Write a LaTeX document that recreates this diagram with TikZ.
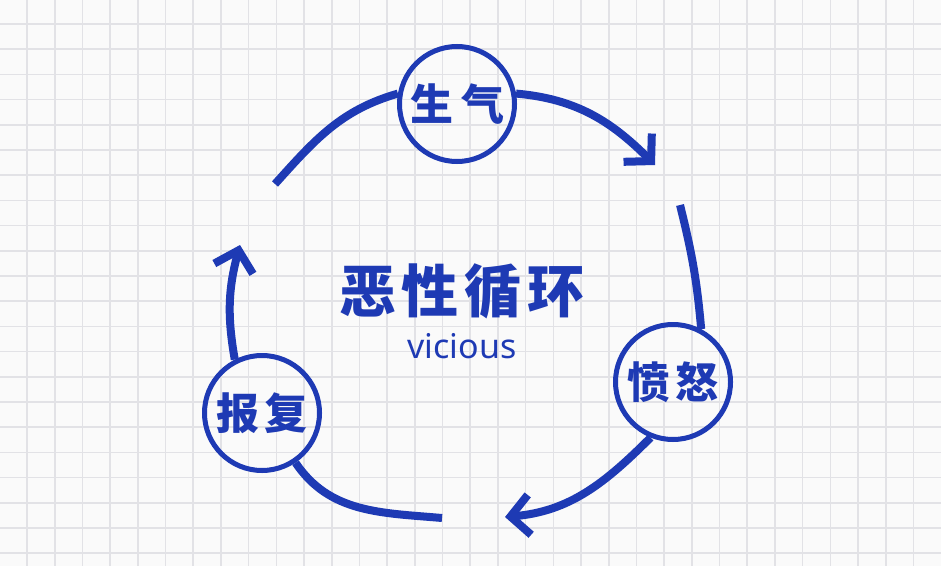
\documentclass[tikz,border=0pt]{standalone}
\usepackage{fontspec}
\setmainfont{Noto Sans}
\newfontfamily\cjk{Noto Sans CJK SC}
\usetikzlibrary{arrows.meta}
\definecolor{cycblue}{RGB}{30,58,180}
\definecolor{gridgray}{RGB}{226,226,230}
\definecolor{paper}{RGB}{250,250,250}
\tikzset{
  loopnode/.style={circle,draw=cycblue,line width=5pt,minimum size=115pt,inner sep=0pt,
    text=cycblue,font=\cjk\bfseries\fontsize{43}{43}\selectfont},
  looparc/.style={draw=cycblue,line width=8pt,line cap=butt},
  looptip/.style={looparc,-{Straight Barb[length=19pt,width=40pt,sharp]}}
}
\begin{document}
\begin{tikzpicture}[x=1pt,y=1pt]
	\fill[paper] (0,0) rectangle (941,566);
	\useasboundingbox (0,0) rectangle (941,566);
	% grid paper
	\foreach \i in {0,...,32} \draw[gridgray,line width=1.6pt] (27+27.7*\i,0)--(27+27.7*\i,566);
	\foreach \j in {0,...,21} \draw[gridgray,line width=1.6pt] (0,542-25.2*\j)--(941,542-25.2*\j);
	% the three steps
	\node[loopnode] (shengqi) at (457,462) {生\hspace{8pt}气};
	\node[loopnode] (fennu) at (673,184) {愤\hspace{5pt}怒};
	\node[loopnode] (baofu) at (262,153) {报\hspace{6pt}复};
	% centre title
	\node[text=cycblue,font=\cjk\bfseries\fontsize{57}{57}\selectfont] (title) at (462,275) {恶\hspace{6pt}性\hspace{6pt}循\hspace{6pt}环};
	\node[text=cycblue,font=\fontsize{34}{34}\selectfont] (sub) at (462,220) {vicious};
	% gaps in the ring
	\coordinate (tipA) at (655,401);
	\coordinate (gapA) at (680,361);
	\coordinate (tipB) at (505,49);
	\coordinate (gapB) at (442,48);
	\coordinate (tipC) at (240,321);
	\coordinate (gapC) at (275,382);
	% the ring
	\draw[looptip] (shengqi.10) to[out=-5,in=135] (tipA);
	\draw[looparc] (gapA) to[out=-76,in=95] (fennu.62);
	\draw[looptip] (fennu.-112) to[out=-135,in=5] (tipB);
	\draw[looparc] (gapB) to[out=175,in=-56] (baofu.-56);
	\draw[looptip] (baofu.117) to[out=100,in=-105] (tipC);
	\draw[looparc] (gapC) to[out=48,in=196] (shengqi.170);
\end{tikzpicture}
\end{document}
